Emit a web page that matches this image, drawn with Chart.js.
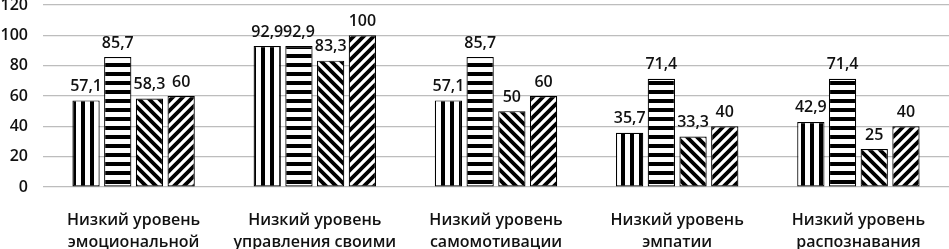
<!DOCTYPE html>
<html lang="ru">
<head>
  <meta charset="UTF-8" />
  <title>Уровни эмоционального интеллекта</title>
  <script src="https://cdn.jsdelivr.net/npm/chart.js"></script>
  <style>
    html, body { margin: 0; padding: 0; background: #fff; }
    #wrap { width: 949px; height: 249px; overflow: hidden; }
  </style>
</head>
<body>
  <div id="wrap"><canvas id="chart" width="949" height="249"></canvas></div>

  <script>
    // data
    const categories = [
      ['Низкий уровень', 'эмоциональной'],
      ['Низкий уровень', 'управления своими'],
      ['Низкий уровень', 'самомотивации'],
      ['Низкий уровень', 'эмпатии'],
      ['Низкий уровень', 'распознавания']
    ];
    const seriesA = [57.1, 92.9, 57.1, 35.7, 42.9];
    const seriesB = [85.7, 92.9, 85.7, 71.4, 71.4];
    const seriesC = [58.3, 83.3, 50, 33.3, 25];
    const seriesD = [60, 100, 60, 40, 40];
    const yTicks = [0, 20, 40, 60, 80, 100, 120];

    const FONT = '"Open Sans", Lato, sans-serif';

    // black & white hatch fills, like the print version
    function makePattern(kind) {
      const s = kind === 'v' || kind === 'h' ? 9 : 10;
      const c = document.createElement('canvas');
      c.width = s; c.height = s;
      const g = c.getContext('2d');
      g.fillStyle = '#fff';
      g.fillRect(0, 0, s, s);
      g.fillStyle = '#000';
      g.strokeStyle = '#000';
      if (kind === 'v') g.fillRect(0, 0, 4, s);
      else if (kind === 'h') g.fillRect(0, 0, s, 4);
      else {
        g.lineWidth = 3.8;
        g.beginPath();
        if (kind === 'back') {
          // "\" stripes
          g.moveTo(-s, 0); g.lineTo(s, 2 * s);
          g.moveTo(0, -s); g.lineTo(2 * s, s);
          g.moveTo(-s / 2, -s / 2); g.lineTo(s * 1.5, s * 1.5);
        } else {
          // "/" stripes
          g.moveTo(0, 2 * s); g.lineTo(2 * s, 0);
          g.moveTo(-s, s); g.lineTo(s, -s);
          g.moveTo(-s / 2, s * 1.5); g.lineTo(s * 1.5, -s / 2);
        }
        g.stroke();
      }
      return document.getElementById('chart').getContext('2d').createPattern(c, 'repeat');
    }

    // value labels above bars, decimal comma
    const valueLabels = {
      id: 'valueLabels',
      afterDatasetsDraw(chart) {
        const ctx = chart.ctx;
        ctx.save();
        ctx.font = '600 16px ' + FONT;
        ctx.fillStyle = '#111';
        ctx.textAlign = 'center';
        ctx.textBaseline = 'bottom';
        chart.data.datasets.forEach((ds, i) => {
          chart.getDatasetMeta(i).data.forEach((bar, j) => {
            ctx.fillText(String(ds.data[j]).replace('.', ','), bar.x, bar.y - 6);
          });
        });
        ctx.restore();
      }
    };

    const mk = (data, kind) => ({
      data,
      backgroundColor: makePattern(kind),
      borderColor: '#000',
      borderWidth: 1.2,
      borderSkipped: false
    });

    // drop the half-label padding chart.js reserves around the plot,
    // and pin the axis boxes so the plot sits where the original does
    const noEdgePad = s => { s.paddingTop = 0; s.paddingBottom = 0; s.paddingLeft = 0; s.paddingRight = 0; };

    new Chart(document.getElementById('chart'), {
      type: 'bar',
      data: {
        labels: categories,
        datasets: [
          mk(seriesA, 'v'),
          mk(seriesB, 'h'),
          mk(seriesC, 'back'),
          mk(seriesD, 'fwd')
        ]
      },
      options: {
        responsive: false,
        animation: false,
        layout: { padding: { top: 5, right: 0, left: 0, bottom: 0 } },
        datasets: { bar: { categoryPercentage: 0.70, barPercentage: 0.86 } },
        plugins: { legend: { display: false }, tooltip: { enabled: false } },
        scales: {
          x: {
            afterFit: s => { noEdgePad(s); s.height = 62; },
            grid: { display: false },
            border: { display: false },
            ticks: {
              color: '#111',
              font: { family: FONT, size: 16, weight: '600', lineHeight: 1.375 },
              padding: 14,
              maxRotation: 0
            }
          },
          y: {
            afterFit: s => { noEdgePad(s); s.width = 43; },
            min: yTicks[0],
            max: yTicks[yTicks.length - 1],
            afterBuildTicks: axis => { axis.ticks = yTicks.map(v => ({ value: v })); },
            grid: { color: '#bdbdbd', lineWidth: 1.2, drawTicks: false },
            border: { display: false },
            ticks: {
              color: '#111',
              font: { family: FONT, size: 16, weight: '600' },
              padding: 15
            }
          }
        }
      },
      plugins: [valueLabels]
    });
  </script>
</body>
</html>
